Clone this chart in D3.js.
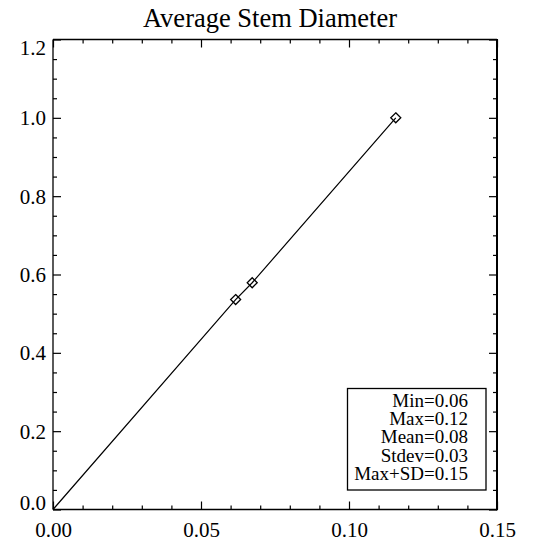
<!DOCTYPE html>
<html><head><meta charset="utf-8">
<script src="https://cdn.jsdelivr.net/npm/d3@7"></script>
<style>
html,body{margin:0;padding:0;background:#fff;}
svg text{font-family:"Liberation Serif","Times New Roman",Times,serif !important;fill:#000;}
</style></head>
<body>
<svg id="chart" width="533" height="543"></svg>
<script>
// ---- data ----
const title = "Average Stem Diameter";
const xValues = [0.0617, 0.0673, 0.1158];
const yValues = [0.536, 0.579, 1.0];
const lineStart = [0, 0];
const xTicks = [0, 0.05, 0.10, 0.15];
const xMinorTicks = [0.01,0.02,0.03,0.04,0.06,0.07,0.08,0.09,0.11,0.12,0.13,0.14];
const yTicks = [0, 0.2, 0.4, 0.6, 0.8, 1.0, 1.2];
const yMinorTicks = [0.05,0.1,0.15,0.25,0.3,0.35,0.45,0.5,0.55,0.65,0.7,0.75,0.85,0.9,0.95,1.05,1.1,1.15];
const statLabels = ["Min=0.06", "Max=0.12", "Mean=0.08", "Stdev=0.03", "Max+SD=0.15"];

// ---- layout ----
const L = 53, R = 497, T = 39.5, B = 509.5;
const serif = '"Liberation Serif","Times New Roman",Times,serif';
const svg = d3.select("#chart");
const x = d3.scaleLinear().domain([0, 0.15]).range([L, R]);
const y = d3.scaleLinear().domain([0, 1.2]).range([B, T]);

const fs = 21;
// bottom axis
const gB = svg.append("g").attr("transform", `translate(0,${B})`)
  .call(d3.axisBottom(x).tickValues(xTicks).tickSize(-8).tickPadding(13).tickFormat(d3.format(".2f")));
svg.append("g").attr("transform", `translate(0,${B})`)
  .call(d3.axisBottom(x).tickValues(xMinorTicks).tickSize(-4).tickFormat(""));
// top axis
svg.append("g").attr("transform", `translate(0,${T})`)
  .call(d3.axisTop(x).tickValues(xTicks).tickSize(-8).tickFormat(""));
svg.append("g").attr("transform", `translate(0,${T})`)
  .call(d3.axisTop(x).tickValues(xMinorTicks).tickSize(-4).tickFormat(""));
// left axis
const gL = svg.append("g").attr("transform", `translate(${L},0)`)
  .call(d3.axisLeft(y).tickValues(yTicks).tickSize(-8).tickPadding(7).tickFormat(d3.format(".1f")));
svg.append("g").attr("transform", `translate(${L},0)`)
  .call(d3.axisLeft(y).tickValues(yMinorTicks).tickSize(-4).tickFormat(""));
// right axis
svg.append("g").attr("transform", `translate(${R},0)`)
  .call(d3.axisRight(y).tickValues(yTicks).tickSize(-8).tickFormat(""));
svg.append("g").attr("transform", `translate(${R},0)`)
  .call(d3.axisRight(y).tickValues(yMinorTicks).tickSize(-4).tickFormat(""));

svg.selectAll("g").attr("font-family", serif);
svg.selectAll(".tick line").attr("stroke", "#000").attr("stroke-width", 1.2);
svg.selectAll(".domain").attr("stroke", "none");
svg.selectAll(".tick text").attr("font-size", fs).style("font-family", serif).attr("fill", "#000");
// y labels at the ends stay inside the axis range
gL.selectAll(".tick text").attr("dy", d => d === 0 ? "-0.02em" : (d === 1.2 ? "0.7em" : "0.34em"));
gB.selectAll(".tick text").attr("dy", "0.71em");

// frame
svg.append("line").attr("x1", L).attr("x2", R).attr("y1", T).attr("y2", T).attr("stroke", "#000").attr("stroke-width", 1.3);
svg.append("line").attr("x1", L).attr("x2", R).attr("y1", B).attr("y2", B).attr("stroke", "#000").attr("stroke-width", 1.6);
svg.append("line").attr("x1", L).attr("x2", L).attr("y1", T).attr("y2", B).attr("stroke", "#000").attr("stroke-width", 1.3);
svg.append("line").attr("x1", R).attr("x2", R).attr("y1", T - 0.6).attr("y2", B + 0.8).attr("stroke", "#000").attr("stroke-width", 2);

// title
svg.append("text").attr("x", 270).attr("y", 27).attr("text-anchor", "middle")
  .attr("font-size", 26.5).style("font-family", serif).text(title);

// line
const pts = [lineStart].concat(xValues.map((v, i) => [v, yValues[i]]));
svg.append("path").datum(pts)
  .attr("d", d3.line().x(d => x(d[0])).y(d => y(d[1])))
  .attr("fill", "none").attr("stroke", "#000").attr("stroke-width", 1.2);

// diamonds
const s = 5;
svg.selectAll(".sym").data(xValues).enter().append("path")
  .attr("d", (d, i) => {
    const cx = x(d), cy = y(yValues[i]);
    return `M${cx},${cy - s}L${cx + s},${cy}L${cx},${cy + s}L${cx - s},${cy}Z`;
  })
  .attr("fill", "none").attr("stroke", "#000").attr("stroke-width", 1.3);

// stats box
svg.append("rect").attr("x", 347.5).attr("y", 388.5).attr("width", 138.5).attr("height", 101.5)
  .attr("fill", "#fff").attr("stroke", "#000").attr("stroke-width", 1.3);
svg.selectAll(".stat").data(statLabels).enter().append("text")
  .attr("x", 468).attr("y", (d, i) => 406.7 + i * 18.35)
  .attr("text-anchor", "end").attr("font-size", 19).style("font-family", serif).text(d => d);
</script>
</body></html>
